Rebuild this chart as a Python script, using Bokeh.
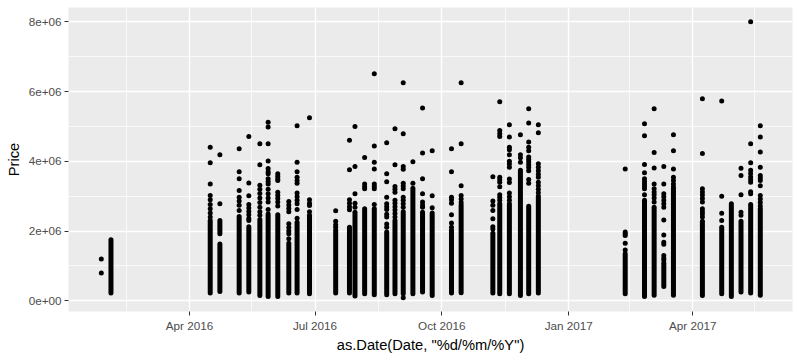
import pandas as pd
from bokeh.plotting import figure
from bokeh.models import ColumnDataSource, Range1d, FixedTicker, DatetimeTickFormatter
from bokeh.embed import file_html
from bokeh.resources import INLINE

# ---------------- data (prices in millions) ----------------
# sale dates (one per vertical column of points)
sale_dates = [
    "2016-01-28", "2016-02-04", "2016-04-16", "2016-04-23", "2016-05-07", "2016-05-14",
    "2016-05-22", "2016-05-28", "2016-06-04", "2016-06-12", "2016-06-18", "2016-06-27",
    "2016-07-16", "2016-07-26", "2016-07-30", "2016-08-06", "2016-08-13", "2016-08-22",
    "2016-08-28", "2016-09-03", "2016-09-10", "2016-09-17", "2016-09-24", "2016-10-08",
    "2016-10-15", "2016-11-07", "2016-11-12", "2016-11-19", "2016-11-27", "2016-12-03",
    "2016-12-10", "2017-02-11", "2017-02-25", "2017-03-04", "2017-03-11", "2017-03-18",
    "2017-04-08", "2017-04-22", "2017-04-29", "2017-05-06", "2017-05-13", "2017-05-20",
]

# separately visible sales on each date
sparse_prices = [
    [1.20, 0.80],
    [],
    [4.40, 3.96, 3.35, 3.02, 2.90, 2.76, 2.64, 2.52, 2.40],
    [4.19, 2.78],
    [4.36, 3.70, 3.50, 3.16, 2.97, 2.86, 2.74, 2.59],
    [4.71, 3.38, 3.01, 2.76, 2.66, 2.56, 2.47, 2.36, 2.30],
    [4.50, 3.90, 3.31, 3.20, 3.08, 2.95, 2.82, 2.68, 2.55, 2.45],
    [5.12, 4.98, 4.50, 4.01, 3.79, 3.70, 3.64, 3.50, 3.42, 3.35, 3.20, 3.07, 2.95, 2.83, 2.62],
    [3.64, 3.57, 3.50, 3.45, 3.11, 3.02, 2.93, 2.83, 2.72],
    [2.85, 2.75, 2.65, 2.55, 2.21, 2.10, 2.00, 1.92, 1.78],
    [5.02, 3.97, 3.70, 3.54, 3.45, 3.37, 3.09, 2.98, 2.88, 2.78, 2.62, 2.37],
    [5.25, 2.90, 2.80, 2.73, 2.55],
    [2.58, 2.28, 2.18, 2.11],
    [4.60, 3.76, 2.90, 2.80, 2.70, 2.61],
    [5.00, 3.85, 3.07, 2.80, 2.68],
    [4.11, 3.35, 3.27, 3.21],
    [6.51, 4.44, 3.97, 3.78, 3.35, 3.28, 3.21, 2.76],
    [4.53, 3.64, 3.41, 2.97, 2.78, 2.70, 2.62, 2.48, 2.40, 2.20, 2.11],
    [4.93, 3.90, 3.28, 3.20, 3.11, 2.88, 2.80, 2.70, 2.60, 2.50, 2.40],
    [6.25, 4.79, 3.85, 3.77, 3.37, 3.29, 3.21, 2.97, 2.88, 2.78, 2.68, 0.09],
    [3.99, 3.37],
    [5.53, 4.24, 3.50, 3.07, 2.83, 2.75, 2.68],
    [4.30, 3.01, 2.67],
    [4.36, 3.70, 2.97, 2.90, 2.80, 2.47, 2.23, 2.11],
    [6.25, 4.50, 3.30, 3.02, 2.92, 2.82],
    [3.56, 2.86, 2.74, 2.59, 2.35, 2.12, 2.06],
    [5.71, 4.88, 4.79, 4.71, 3.54, 3.47, 3.40, 3.27, 3.04, 2.96, 2.88],
    [5.05, 4.70, 4.40, 4.33, 4.19, 4.00, 3.92, 3.83, 3.49, 3.39, 3.09, 2.98, 2.88],
    [4.76, 4.19, 4.10, 3.97],
    [5.51, 5.10, 4.55, 4.40, 4.30, 4.12, 4.05, 3.98, 3.90, 3.82, 3.73, 3.48, 3.37],
    [5.05, 4.82, 3.93, 3.83, 3.73, 3.63, 3.54, 3.40, 3.30, 3.20, 3.10],
    [3.78, 1.97, 1.92, 1.87, 1.65, 1.46],
    [5.08, 4.73, 3.91, 3.67, 3.50, 3.42, 3.35, 3.28, 3.21, 3.04],
    [5.51, 4.25, 3.81, 3.35, 3.21, 3.12, 3.04, 2.95, 2.83],
    [3.85, 3.35, 3.07, 2.98, 2.88, 2.78, 2.68, 2.32, 1.89, 1.68, 1.62, 1.30, 1.22, 1.16],
    [4.76, 4.30, 3.78, 3.54, 3.45, 3.35, 3.26],
    [5.79, 4.22, 3.21, 3.12, 3.03, 2.93, 2.83, 2.64, 2.56, 2.49, 2.40],
    [5.73, 3.00, 2.51, 2.30],
    [],
    [3.80, 3.59, 3.04, 2.54, 2.45],
    [8.00, 4.50, 3.96, 3.74, 3.65, 3.55, 3.47, 3.40, 3.13, 3.07],
    [5.02, 4.70, 4.27, 3.83, 3.59, 3.52, 3.45, 3.30, 3.02, 2.92, 2.82, 2.72],
]

# price ranges where sales overlap into a solid column (date, low, high)
run_dates = [
    "2016-02-04", "2016-04-16", "2016-04-23", "2016-04-23", "2016-05-07", "2016-05-14",
    "2016-05-22", "2016-05-28", "2016-06-04", "2016-06-12", "2016-06-18", "2016-06-27",
    "2016-07-16", "2016-07-26", "2016-07-30", "2016-08-06", "2016-08-13", "2016-08-22",
    "2016-08-28", "2016-09-03", "2016-09-10", "2016-09-17", "2016-09-24", "2016-10-08",
    "2016-10-15", "2016-11-07", "2016-11-12", "2016-11-19", "2016-11-27", "2016-12-03",
    "2016-12-10", "2017-02-11", "2017-02-25", "2017-03-04", "2017-03-11", "2017-03-18",
    "2017-04-08", "2017-04-22", "2017-04-29", "2017-05-06", "2017-05-13", "2017-05-20",
]
run_low = [
    0.22, 0.22, 1.92, 0.27, 0.22, 0.25, 0.15, 0.12, 0.12, 0.22, 0.22, 0.20,
    0.22, 0.22, 0.14, 0.20, 0.17, 0.17, 0.20, 0.20, 0.20, 0.25, 0.15, 0.22,
    0.23, 0.22, 0.20, 0.20, 0.15, 0.20, 0.22, 0.20, 0.12, 0.16, 0.41, 0.16,
    0.15, 0.20, 0.12, 0.25, 0.22, 0.16,
]
run_high = [
    1.75, 2.30, 2.30, 1.63, 2.42, 2.12, 2.33, 2.49, 2.47, 1.65, 2.25, 2.45,
    2.02, 2.11, 2.54, 2.64, 2.64, 1.97, 2.30, 2.55, 3.23, 2.54, 2.52, 2.02,
    2.75, 1.94, 2.78, 2.78, 3.74, 2.71, 3.00, 1.35, 2.88, 2.68, 1.08, 3.21,
    2.28, 2.11, 2.78, 2.28, 2.76, 2.64,
]

price_ticks = [0, 2000000, 4000000, 6000000, 8000000]
price_tick_labels = ["0e+00", "2e+06", "4e+06", "6e+06", "8e+06"]
price_minor = [1000000, 3000000, 5000000, 7000000]
date_ticks = ["2016-04-01", "2016-07-01", "2016-10-01", "2017-01-01", "2017-04-01"]
date_minor = ["2016-02-15", "2016-05-16", "2016-08-16", "2016-11-16", "2017-02-14", "2017-05-16"]

# ---------------- build sources ----------------
pt_x, pt_y = [], []
for d, prices in zip(sale_dates, sparse_prices):
    for v in prices:
        pt_x.append(pd.Timestamp(d))
        pt_y.append(v * 1e6)
pts = ColumnDataSource(dict(x=pt_x, y=pt_y))
runs = ColumnDataSource(dict(
    x=[pd.Timestamp(d) for d in run_dates],
    lo=[v * 1e6 for v in run_low],
    hi=[v * 1e6 for v in run_high],
))

def ms(d):
    return pd.Timestamp(d).value // 10**6

ref = pd.Timestamp("2016-04-01")
p = figure(
    width=800, height=358, output_backend="svg", toolbar_location=None,
    x_axis_type="datetime",
    x_range=Range1d(ref - pd.Timedelta(days=87.8), ref + pd.Timedelta(days=437.35)),
    y_range=Range1d(-307000, 8410000),
    min_border_left=68, min_border_right=8, min_border_top=7, min_border_bottom=47,
)
p.background_fill_color = "#EBEBEB"
p.border_fill_color = "white"
p.outline_line_color = None

p.segment(x0="x", y0="lo", x1="x", y1="hi", source=runs,
          line_width=5, line_cap="round", line_color="black")
p.scatter(x="x", y="y", source=pts, size=5, fill_color="black", line_color=None)

p.xaxis.ticker = FixedTicker(ticks=[ms(d) for d in date_ticks],
                             minor_ticks=[ms(d) for d in date_minor])
fmt = "%b %Y"
p.xaxis.formatter = DatetimeTickFormatter(
    microseconds=fmt, milliseconds=fmt, seconds=fmt, minsec=fmt, minutes=fmt,
    hourmin=fmt, hours=fmt, days=fmt, months=fmt, years=fmt)
p.yaxis.ticker = FixedTicker(ticks=price_ticks, minor_ticks=price_minor)
p.yaxis.major_label_overrides = {t: l for t, l in zip(price_ticks, price_tick_labels)}

p.grid.grid_line_color = "white"
p.grid.grid_line_width = 1.4
p.grid.minor_grid_line_color = "white"
p.grid.minor_grid_line_width = 0.7

p.xaxis.axis_label = 'as.Date(Date, "%d/%m/%Y")'
p.yaxis.axis_label = "Price"
for ax in (p.xaxis, p.yaxis):
    ax.axis_line_color = None
    ax.major_tick_line_color = "#333333"
    ax.major_tick_in = 0
    ax.major_tick_out = 4
    ax.minor_tick_line_color = None
    ax.major_label_text_font = "Liberation Sans"
    ax.major_label_text_font_size = "11.7px"
    ax.major_label_text_color = "#4D4D4D"
    ax.major_label_standoff = 3
    ax.axis_label_text_font = "Liberation Sans"
    ax.axis_label_text_font_size = "14.7px"
    ax.axis_label_text_font_style = "normal"
    ax.axis_label_text_color = "black"
    ax.axis_label_standoff = 4
p.xaxis.axis_label_standoff = 2

open("out.html", "w").write(file_html(p, INLINE))
